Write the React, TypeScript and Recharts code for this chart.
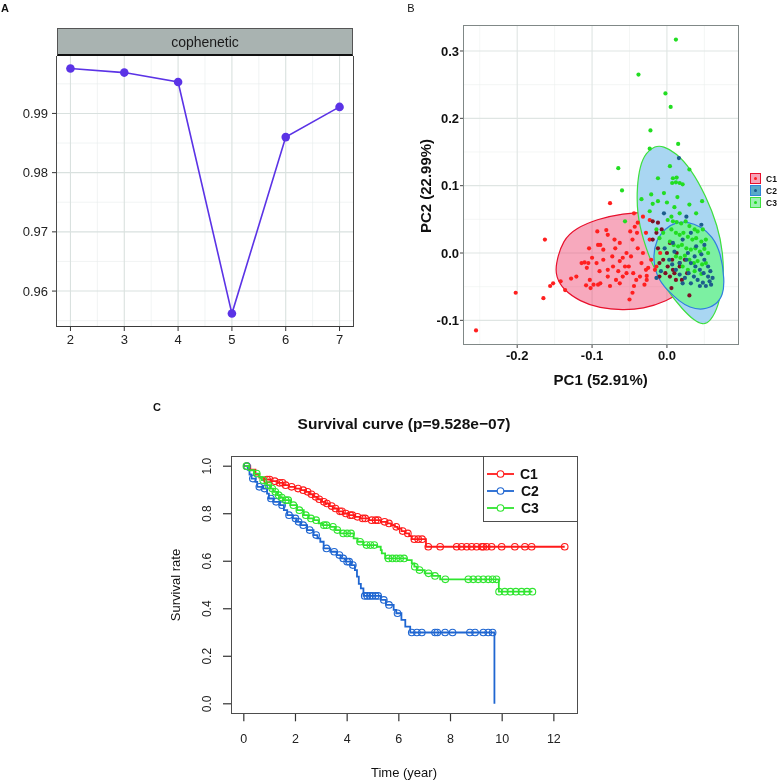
import React from 'react'
import {
  LineChart,
  Line,
  ScatterChart,
  Scatter,
  ComposedChart,
  XAxis,
  YAxis,
  CartesianGrid,
} from 'recharts'

const FONT = '"Liberation Sans", Arial, Helvetica, sans-serif'

// ---- A: cophenetic coefficient by rank
const ranks = [2, 3, 4, 5, 6, 7]
const cophenetic = [0.9976, 0.9969, 0.9953, 0.9562, 0.986, 0.9911]
const copheneticTicks = [0.96, 0.97, 0.98, 0.99]
const copheneticMinor = [0.955, 0.965, 0.975, 0.985, 0.995]
const rankMinor = [2.5, 3.5, 4.5, 5.5, 6.5]

// ---- B: PCA of samples
type Pt = [number, number]
const pc1Ticks = [-0.2, -0.1, 0]
const pc1Minor = [-0.25, -0.15, -0.05, 0.05]
const pc2Ticks = [-0.1, 0, 0.1, 0.2, 0.3]
const pc2Minor = [-0.05, 0.05, 0.15, 0.25]

const c1Points: Pt[] = [
  [-0.255, -0.115], [-0.202, -0.059], [-0.165, -0.067], [-0.163, 0.02], [-0.156, -0.049],
  [-0.152, -0.045], [-0.142, -0.042], [-0.136, -0.055], [-0.128, -0.038], [-0.121, -0.035],
  [-0.076, 0.074], [-0.104, 0.007], [-0.107, -0.022], [-0.108, -0.048], [-0.102, -0.052],
  [-0.098, -0.047], [-0.092, -0.047], [-0.089, -0.045], [-0.081, 0.034], [-0.079, 0.027],
  [-0.093, 0.032], [-0.092, 0.012], [-0.085, 0.005], [-0.1, -0.007], [-0.094, -0.015],
  [-0.085, -0.01], [-0.09, -0.027], [-0.079, -0.035], [-0.073, -0.005], [-0.072, -0.02],
  [-0.065, -0.027], [-0.063, -0.045], [-0.059, -0.035], [-0.069, 0.007], [-0.063, 0.015],
  [-0.054, 0.0], [-0.051, -0.02], [-0.05, -0.069], [-0.046, -0.059], [-0.044, -0.049],
  [-0.041, -0.04], [-0.049, 0.032], [-0.046, 0.02], [-0.04, 0.03], [-0.039, 0.045],
  [-0.032, 0.0], [-0.034, -0.015], [-0.028, -0.025], [-0.027, -0.04], [-0.023, 0.02],
  [-0.021, -0.01], [-0.016, -0.025], [-0.014, -0.02], [-0.009, 0.0], [-0.03, -0.047],
  [-0.056, -0.02], [-0.054, -0.03], [-0.079, -0.025], [-0.103, -0.04], [-0.114, -0.015],
  [-0.105, -0.015], [-0.076, -0.049], [-0.068, -0.04], [-0.045, -0.03], [-0.036, -0.035],
  [-0.063, -0.012], [-0.048, -0.005], [-0.039, 0.007], [-0.028, 0.03], [-0.059, -0.007],
  [-0.07, 0.02], [-0.032, 0.054], [-0.044, 0.059], [-0.043, 0.039], [-0.023, 0.049],
  [-0.11, -0.014], [-0.089, 0.012], [-0.025, -0.022], [-0.027, -0.034],
]
// C1 samples sitting inside the C2/C3 cloud (drawn darker)
const c1Inner: Pt[] = [
  [-0.019, 0.047], [-0.014, 0.03], [-0.012, 0.007], [-0.007, 0.035], [-0.005, -0.01],
  [-0.002, -0.03], [0.0, 0.0], [0.001, -0.02], [0.004, 0.015], [0.007, -0.01],
  [0.01, -0.03], [0.013, 0.0], [0.017, -0.02], [0.02, -0.04], [0.024, -0.01],
  [0.027, -0.03], [0.03, -0.063], [0.012, -0.04], [0.006, -0.052], [-0.01, -0.035],
  [-0.019, 0.02], [-0.01, -0.015], [0.008, -0.025], [0.017, -0.015], [0.004, -0.035],
  [-0.012, 0.045],
]
const c2Points: Pt[] = [
  [0.032, -0.015], [0.038, -0.02], [0.044, -0.025], [0.049, -0.03], [0.055, -0.035],
  [0.057, -0.042], [0.059, -0.047], [0.052, -0.049], [0.048, -0.044], [0.041, -0.04],
  [0.036, -0.035], [0.029, -0.03], [0.024, -0.037], [0.017, -0.032], [0.012, -0.025],
  [0.007, -0.017], [0.003, -0.01], [0.017, -0.015], [0.026, -0.01], [0.037, -0.005],
  [0.046, -0.002], [0.05, -0.01], [0.055, -0.02], [0.058, -0.027], [0.061, -0.037],
  [0.044, -0.049], [0.032, -0.045], [0.021, -0.045], [-0.014, -0.037], [-0.008, -0.027],
  [-0.003, 0.007], [0.008, 0.015], [0.021, 0.02], [0.032, 0.03], [0.046, 0.042],
  [0.026, 0.054], [0.016, 0.141], [-0.004, 0.059], [0.01, 0.002], [0.028, 0.0],
  [0.039, 0.01], [0.05, 0.012],
]
const c3Points: Pt[] = [
  [0.012, 0.317], [-0.038, 0.265], [-0.002, 0.237], [0.005, 0.217], [-0.022, 0.182],
  [0.015, 0.162], [-0.023, 0.155], [-0.065, 0.126], [-0.06, 0.093], [0.004, 0.129],
  [-0.012, 0.111], [0.03, 0.124], [0.008, 0.111], [0.013, 0.112], [0.007, 0.104],
  [0.012, 0.105], [0.017, 0.104], [0.021, 0.102], [-0.034, 0.08], [-0.021, 0.087],
  [-0.019, 0.073], [-0.012, 0.077], [-0.004, 0.089], [0.0, 0.075], [0.01, 0.068],
  [0.014, 0.083], [0.03, 0.072], [0.039, 0.059], [0.047, 0.077], [-0.056, 0.047],
  [-0.023, 0.062], [0.001, 0.049], [0.008, 0.047], [0.013, 0.046], [0.019, 0.044],
  [0.025, 0.047], [0.03, 0.04], [0.037, 0.035], [0.041, 0.032], [0.048, 0.035],
  [0.006, 0.035], [0.012, 0.03], [0.017, 0.027], [0.022, 0.03], [0.028, 0.024],
  [0.034, 0.02], [0.039, 0.022], [0.046, 0.017], [0.052, 0.02], [0.004, 0.017],
  [0.009, 0.012], [0.015, 0.01], [0.02, 0.012], [0.026, 0.007], [0.032, 0.005],
  [0.038, 0.007], [0.044, 0.002], [0.05, 0.006], [0.055, 0.0], [0.012, -0.005],
  [0.018, -0.007], [0.024, -0.004], [0.03, -0.01], [0.036, -0.015], [0.041, -0.012],
  [0.047, -0.017], [0.052, -0.015], [0.021, -0.02], [0.028, -0.025], [0.037, -0.027],
  [0.046, -0.031], [-0.005, 0.03], [-0.01, 0.022], [-0.014, 0.035], [0.006, 0.054],
  [0.017, 0.059],
]
// outlines of the normal-data ellipses
const c1Ellipse: Pt[] = [
  [-0.149, -0.018], [-0.139, 0.02], [-0.121, 0.037], [-0.094, 0.05], [-0.059, 0.059],
  [-0.023, 0.061], [0.008, 0.059], [0.035, 0.052], [0.052, 0.04], [0.064, 0.022],
  [0.065, 0.005], [0.059, -0.015], [0.046, -0.035], [0.026, -0.054], [-0.001, -0.072],
  [-0.032, -0.083], [-0.059, -0.085], [-0.09, -0.082], [-0.116, -0.072], [-0.139, -0.054],
  [-0.148, -0.035],
]
const c3Ellipse: Pt[] = [
  [-0.005, 0.159], [0.012, 0.149], [0.032, 0.125], [0.052, 0.085], [0.068, 0.04],
  [0.075, 0.0], [0.076, -0.04], [0.069, -0.079], [0.058, -0.102], [0.048, -0.107],
  [0.036, -0.1], [0.021, -0.084], [-0.001, -0.054], [-0.019, -0.02], [-0.032, 0.02],
  [-0.04, 0.059], [-0.04, 0.099], [-0.036, 0.13], [-0.028, 0.149], [-0.016, 0.159],
]
const c2Ellipse: Pt[] = [
  [0.012, 0.046], [0.028, 0.046], [0.044, 0.04], [0.061, 0.025], [0.072, 0.0],
  [0.077, -0.04], [0.075, -0.062], [0.066, -0.077], [0.048, -0.085], [0.03, -0.081],
  [0.017, -0.072], [0.0, -0.055], [-0.014, -0.035], [-0.019, -0.005], [-0.014, 0.02],
  [-0.003, 0.036],
]

const clusterNames = ['C1', 'C2', 'C3']
const keyFills = ['#f6a3b8', '#58a9c9', '#9ef0b4']
const keyStrokes = ['#e8112d', '#2f86d8', '#3ee03e']
const keyDots = ['#ff1f1f', '#1d5d8c', '#22dd22']

// ---- C: Kaplan-Meier curves
const c1Time = [0, 0.25, 0.45, 0.6, 0.8, 1.05, 1.3, 1.55, 1.75, 2.0, 2.2, 2.4, 2.55, 2.7, 2.85, 3.0, 3.15, 3.3, 3.45, 3.65, 3.85, 4.05, 4.3, 4.5, 4.85, 5.3, 5.55, 5.7, 5.85, 5.95, 6.1, 6.25, 6.4, 6.5, 7.05, 12.42]
const c1Surv = [1.0, 0.985, 0.965, 0.952, 0.944, 0.937, 0.93, 0.92, 0.913, 0.906, 0.899, 0.892, 0.882, 0.871, 0.861, 0.85, 0.843, 0.832, 0.822, 0.81, 0.801, 0.794, 0.787, 0.78, 0.773, 0.766, 0.759, 0.752, 0.745, 0.738, 0.727, 0.717, 0.706, 0.693, 0.661, 0.661]
const c1Censor = [0.12, 0.9, 1.0, 1.2, 1.38, 1.5, 1.62, 1.85, 2.1, 2.3, 2.47, 2.62, 2.78, 2.92, 3.1, 3.22, 3.4, 3.55, 3.72, 3.8, 3.95, 4.12, 4.2, 4.4, 4.6, 4.7, 4.95, 5.1, 5.2, 5.45, 5.62, 5.9, 6.15, 6.35, 6.6, 6.75, 6.9, 7.14, 7.6, 8.24, 8.43, 8.63, 8.82, 9.01, 9.21, 9.27, 9.4, 9.59, 9.98, 10.49, 10.88, 11.14, 12.42]

const c2Time = [0, 0.15, 0.22, 0.3, 0.45, 0.52, 0.75, 0.9, 0.97, 1.15, 1.4, 1.55, 1.68, 1.9, 2.05, 2.2, 2.45, 2.7, 2.85, 2.96, 3.09, 3.35, 3.6, 3.75, 3.95, 4.15, 4.3, 4.38, 4.45, 4.53, 4.63, 5.3, 5.5, 5.8, 5.9, 6.1, 6.25, 6.44, 9.7]
const c2Surv = [1.0, 0.985, 0.965, 0.948, 0.934, 0.913, 0.906, 0.885, 0.864, 0.85, 0.836, 0.815, 0.794, 0.78, 0.766, 0.752, 0.731, 0.71, 0.696, 0.682, 0.654, 0.64, 0.626, 0.612, 0.598, 0.584, 0.563, 0.535, 0.505, 0.486, 0.454, 0.437, 0.416, 0.395, 0.381, 0.353, 0.325, 0.3, 0]
const c2Censor = [0.12, 0.35, 0.6, 0.8, 1.05, 1.25, 1.48, 1.75, 2.0, 2.12, 2.3, 2.55, 2.8, 3.2, 3.5, 3.7, 3.85, 4.0, 4.08, 4.22, 4.68, 4.78, 4.88, 4.98, 5.1, 5.2, 5.42, 5.62, 5.95, 6.5, 6.7, 6.89, 7.4, 7.49, 7.79, 8.08, 8.75, 8.95, 9.27, 9.46, 9.63]

const c3Time = [0, 0.2, 0.4, 0.6, 0.7, 0.8, 0.9, 1.03, 1.15, 1.29, 1.4, 1.54, 1.8, 2.06, 2.32, 2.5, 2.7, 2.9, 3.03, 3.35, 3.55, 3.73, 4.25, 4.4, 4.63, 5.15, 5.3, 5.34, 5.47, 6.31, 6.5, 6.6, 6.7, 7.0, 7.3, 7.6, 9.87, 11.17]
const c3Surv = [1.0, 0.983, 0.969, 0.955, 0.941, 0.927, 0.92, 0.906, 0.892, 0.878, 0.868, 0.857, 0.836, 0.815, 0.794, 0.78, 0.773, 0.759, 0.752, 0.745, 0.731, 0.717, 0.696, 0.682, 0.668, 0.661, 0.647, 0.633, 0.612, 0.605, 0.591, 0.577, 0.563, 0.549, 0.538, 0.524, 0.472, 0.472]
const c3Censor = [0.1, 0.5, 0.75, 0.95, 1.1, 1.22, 1.35, 1.47, 1.62, 1.72, 1.92, 2.15, 2.4, 2.6, 2.8, 3.1, 3.2, 3.45, 3.62, 3.85, 4.0, 4.15, 4.5, 4.75, 4.9, 5.05, 5.6, 5.75, 5.9, 6.05, 6.2, 6.62, 6.8, 7.15, 7.4, 7.8, 8.69, 8.88, 9.07, 9.27, 9.46, 9.63, 9.78, 9.88, 10.1, 10.32, 10.53, 10.75, 10.96, 11.17]

const timeTicks = [0, 2, 4, 6, 8, 10, 12]
const survTicks = [0, 0.2, 0.4, 0.6, 0.8, 1.0]
const survColors = ['#ff1a1a', '#1f66d1', '#2fe52f']

// ---------- helpers
const toXY = (pts: Pt[]) => pts.map(([x, y]) => ({ x, y }))
const steps = (times: number[], surv: number[]) => times.map((t, i) => ({ t, s: surv[i] }))
function survivalAt(times: number[], surv: number[], t: number) {
  let s = surv[0]
  for (let i = 0; i < times.length; i++) if (times[i] <= t) s = surv[i]
  return s
}
const censored = (times: number[], surv: number[], cens: number[]) =>
  cens.map((t) => ({ t, s: survivalAt(times, surv, t) }))

function Text({ x, y, size, bold = false, rotate = 0, color = '#111', children }: any) {
  return (
    <div
      style={{
        position: 'absolute',
        left: x,
        top: y,
        transform: `translate(-50%, -50%) rotate(${rotate}deg)`,
        fontSize: size,
        fontWeight: bold ? 700 : 400,
        color,
        whiteSpace: 'nowrap',
        lineHeight: 1,
      }}
    >
      {children}
    </div>
  )
}

const hidden = () => <g />
const dot = (color: string) => (p: any) => <circle cx={p.cx} cy={p.cy} r={2.1} fill={color} />
const ring = (color: string) => (p: any) => (
  <circle cx={p.cx} cy={p.cy} r={3.3} fill="none" stroke={color} strokeWidth={1.1} />
)

// ---------- panels
function CopheneticPanel() {
  const data = ranks.map((k, i) => ({ k, v: cophenetic[i] }))
  const tick = { fontSize: 13, fill: '#222', fontFamily: FONT }
  return (
    <div style={{ position: 'absolute', left: 0, top: 0 }}>
      <LineChart width={380} height={360} data={data} margin={{ top: 56, right: 27, bottom: 4, left: 0 }}>
        <CartesianGrid stroke="#e8edec" strokeWidth={0.6} verticalValues={rankMinor} horizontalValues={copheneticMinor} />
        <CartesianGrid stroke="#d9e1df" strokeWidth={1.1} verticalValues={ranks} horizontalValues={copheneticTicks} />
        <XAxis
          type="number"
          dataKey="k"
          domain={[1.75, 7.25]}
          ticks={ranks}
          interval={0}
          allowDataOverflow
          height={30}
          axisLine={false}
          tickLine={{ stroke: '#333' }}
          tickSize={5}
          tickMargin={4}
          tick={tick}
        />
        <YAxis
          type="number"
          domain={[0.9541, 0.9997]}
          ticks={copheneticTicks}
          interval={0}
          allowDataOverflow
          width={57}
          axisLine={false}
          tickLine={{ stroke: '#333' }}
          tickSize={5}
          tickMargin={4}
          tick={tick}
          tickFormatter={(v: number) => v.toFixed(2)}
        />
        <Line
          dataKey="v"
          stroke="#5b33e6"
          strokeWidth={1.6}
          dot={{ r: 4.3, fill: '#5b33e6', stroke: '#5b33e6', strokeWidth: 0 }}
          isAnimationActive={false}
        />
      </LineChart>
      <div
        style={{
          position: 'absolute', left: 57, top: 28, width: 296, height: 28, boxSizing: 'border-box',
          background: '#a9b3b1', border: '1px solid #555', borderBottom: '2px solid #111',
          display: 'flex', alignItems: 'center', justifyContent: 'center', fontSize: 14, color: '#1a1a1a',
        }}
      >
        cophenetic
      </div>
      <div
        style={{
          position: 'absolute', left: 56, top: 56, width: 298, height: 271, boxSizing: 'border-box',
          borderLeft: '1.6px solid #4a4a4a', borderRight: '1.6px solid #4a4a4a', borderBottom: '1.8px solid #3a3a3a',
        }}
      />
    </div>
  )
}

function PcaPanel() {
  const tick = { fontSize: 13, fill: '#111', fontWeight: 700, fontFamily: FONT }
  return (
    <div style={{ position: 'absolute', left: 390, top: 0 }}>
      <ScatterChart width={387} height={400} margin={{ top: 25, right: 38.5, bottom: 25, left: 0 }}>
        <CartesianGrid stroke="#edf0ef" strokeWidth={0.6} verticalValues={pc1Minor} horizontalValues={pc2Minor} />
        <CartesianGrid stroke="#dfe5e3" strokeWidth={1.1} verticalValues={pc1Ticks} horizontalValues={pc2Ticks} />
        <XAxis
          type="number"
          dataKey="x"
          domain={[-0.2724, 0.0956]}
          ticks={pc1Ticks}
          interval={0}
          allowDataOverflow
          height={30}
          axisLine={false}
          tickLine={{ stroke: '#444' }}
          tickSize={3}
          tickMargin={3}
          tick={tick}
          tickFormatter={(v: number) => v.toFixed(1)}
        />
        <YAxis
          type="number"
          dataKey="y"
          domain={[-0.1366, 0.3386]}
          ticks={pc2Ticks}
          interval={0}
          allowDataOverflow
          width={73}
          axisLine={false}
          tickLine={{ stroke: '#444' }}
          tickSize={3}
          tickMargin={1}
          tick={tick}
          tickFormatter={(v: number) => v.toFixed(1)}
        />
        <Scatter
          data={toXY(c1Ellipse)}
          shape={hidden}
          line={{ stroke: '#e8112d', strokeWidth: 1.2, fill: 'rgba(237,51,97,0.42)' }}
          lineType="joint"
          lineJointType="basisClosed"
          isAnimationActive={false}
        />
        <Scatter
          data={toXY(c3Ellipse)}
          shape={hidden}
          line={{ stroke: '#3ee03e', strokeWidth: 1.2, fill: '#a9d6f2', style: { mixBlendMode: 'multiply' } }}
          lineType="joint"
          lineJointType="basisClosed"
          isAnimationActive={false}
        />
        <Scatter
          data={toXY(c2Ellipse)}
          shape={hidden}
          line={{ stroke: '#2f7ee0', strokeWidth: 1.2, fill: '#7cf0a2', style: { mixBlendMode: 'multiply' } }}
          lineType="joint"
          lineJointType="basisClosed"
          isAnimationActive={false}
        />
        <Scatter data={toXY(c1Points)} shape={dot('#ff1f1f')} isAnimationActive={false} />
        <Scatter data={toXY(c1Inner)} shape={dot('#7d1026')} isAnimationActive={false} />
        <Scatter data={toXY(c3Points)} shape={dot('#22dd22')} isAnimationActive={false} />
        <Scatter data={toXY(c2Points)} shape={dot('#1d5d8c')} isAnimationActive={false} />
      </ScatterChart>
      <div
        style={{
          position: 'absolute', left: 73, top: 25, width: 275.5, height: 320, boxSizing: 'border-box',
          border: '1px solid #808887',
        }}
      />
      {clusterNames.map((name, i) => (
        <div key={name} style={{ position: 'absolute', left: 360, top: 173 + i * 12, height: 11, display: 'flex', alignItems: 'center' }}>
          <div
            style={{
              width: 11, height: 11, boxSizing: 'border-box', background: keyFills[i], border: `1px solid ${keyStrokes[i]}`,
              display: 'flex', alignItems: 'center', justifyContent: 'center',
            }}
          >
            <div style={{ width: 3.5, height: 3.5, borderRadius: 2, background: keyDots[i] }} />
          </div>
          <span style={{ marginLeft: 5, fontSize: 8.5, fontWeight: 700, color: '#111' }}>{name}</span>
        </div>
      ))}
    </div>
  )
}

function SurvivalPanel() {
  const series = [
    { name: 'C1', times: c1Time, surv: c1Surv, cens: c1Censor },
    { name: 'C2', times: c2Time, surv: c2Surv, cens: c2Censor },
    { name: 'C3', times: c3Time, surv: c3Surv, cens: c3Censor },
  ]
  const yTick = (p: any) => {
    const cx = p.x - 16
    return (
      <text
        x={cx}
        y={p.y}
        transform={`rotate(-90 ${cx} ${p.y})`}
        textAnchor="middle"
        dominantBaseline="central"
        fontSize={12}
        fill="#222"
        fontFamily={FONT}
      >
        {Number(p.payload.value).toFixed(1)}
      </text>
    )
  }
  return (
    <div style={{ position: 'absolute', left: 150, top: 380 }}>
      <ComposedChart width={440} height={400} margin={{ top: 76.7, right: 13, bottom: 26.7, left: 0 }}>
        <XAxis
          type="number"
          dataKey="t"
          domain={[-0.496, 12.896]}
          ticks={timeTicks}
          interval={0}
          allowDataOverflow
          height={40}
          axisLine={false}
          tickLine={{ stroke: '#333', strokeWidth: 1.2 }}
          tickSize={8}
          tickMargin={13}
          tick={{ fontSize: 12.5, fill: '#222', fontFamily: FONT }}
        />
        <YAxis
          type="number"
          dataKey="s"
          domain={[-0.04, 1.04]}
          ticks={survTicks}
          interval={0}
          allowDataOverflow
          width={81}
          axisLine={false}
          tickLine={{ stroke: '#333', strokeWidth: 1.2 }}
          tickSize={8}
          tickMargin={0}
          tick={yTick}
        />
        {series.map((s, i) => (
          <Line
            key={s.name + 'line'}
            data={steps(s.times, s.surv)}
            dataKey="s"
            type="stepAfter"
            stroke={survColors[i]}
            strokeWidth={1.8}
            dot={false}
            isAnimationActive={false}
          />
        ))}
        {series.map((s, i) => (
          <Scatter
            key={s.name + 'cens'}
            data={censored(s.times, s.surv, s.cens)}
            dataKey="s"
            shape={ring(survColors[i])}
            isAnimationActive={false}
          />
        ))}
      </ComposedChart>
      <div
        style={{
          position: 'absolute', left: 80.5, top: 76, width: 347, height: 258, boxSizing: 'border-box',
          border: '1.3px solid #4d4d4d',
        }}
      />
      <div
        style={{
          position: 'absolute', left: 333, top: 76, width: 94.5, height: 66, boxSizing: 'border-box',
          border: '1.3px solid #4d4d4d', background: '#fff',
        }}
      >
        {series.map((s, i) => (
          <div key={s.name} style={{ position: 'absolute', left: 3, top: 8 + i * 17, height: 17, display: 'flex', alignItems: 'center' }}>
            <svg width={27} height={10}>
              <line x1={0} y1={5} x2={27} y2={5} stroke={survColors[i]} strokeWidth={1.8} />
              <circle cx={13.5} cy={5} r={3.3} fill="#fff" stroke={survColors[i]} strokeWidth={1.1} />
            </svg>
            <span style={{ marginLeft: 6 + (i > 0 ? 1 : 0), fontSize: 14, fontWeight: 700, color: '#111' }}>{s.name}</span>
          </div>
        ))}
      </div>
    </div>
  )
}

export default function App() {
  return (
    <div
      style={{
        position: 'absolute', left: 0, top: 0, width: 777, height: 780, background: '#fff',
        fontFamily: FONT, overflow: 'hidden',
      }}
    >
      <CopheneticPanel />
      <PcaPanel />
      <SurvivalPanel />

      <Text x={5} y={8} size={11} bold>A</Text>
      <Text x={411} y={7.5} size={11}>B</Text>
      <Text x={157} y={407} size={11} bold>C</Text>

      <Text x={600.7} y={378.5} size={15} bold>PC1 (52.91%)</Text>
      <Text x={425} y={186} size={15} bold rotate={-90}>PC2 (22.99%)</Text>

      <Text x={404} y={424} size={15.5} bold>Survival curve (p=9.528e−07)</Text>
      <Text x={175} y={585} size={13} rotate={-90}>Survival rate</Text>
      <Text x={404} y={771.5} size={13}>Time (year)</Text>
    </div>
  )
}
